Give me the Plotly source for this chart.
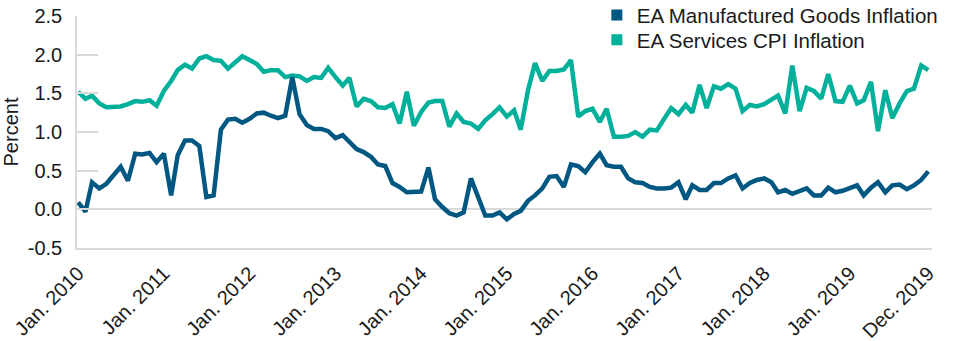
import pandas as pd
import plotly.graph_objects as go

dates = pd.date_range("2010-01-01", "2019-12-01", freq="MS")

manufactured_goods = [
    0.09, -0.03, 0.35, 0.27, 0.33, 0.44, 0.55, 0.37, 0.72, 0.71, 0.73, 0.61,
    0.72, 0.18, 0.70, 0.89, 0.89, 0.82, 0.16, 0.18, 1.03, 1.16, 1.17, 1.12,
    1.17, 1.24, 1.25, 1.21, 1.18, 1.21, 1.71, 1.23, 1.09, 1.04, 1.04, 1.01,
    0.92, 0.96, 0.87, 0.78, 0.74, 0.68, 0.58, 0.56, 0.34, 0.29, 0.22, 0.22,
    0.23, 0.54, 0.13, 0.03, -0.05, -0.08, -0.04, 0.40, 0.14, -0.08, -0.08, -0.04,
    -0.13, -0.06, -0.02, 0.11, 0.18, 0.27, 0.42, 0.43, 0.29, 0.58, 0.56, 0.48,
    0.61, 0.72, 0.57, 0.55, 0.55, 0.40, 0.35, 0.34, 0.29, 0.27, 0.27, 0.28,
    0.35, 0.13, 0.31, 0.25, 0.25, 0.34, 0.34, 0.40, 0.44, 0.27, 0.34, 0.38,
    0.40, 0.35, 0.22, 0.25, 0.20, 0.24, 0.27, 0.18, 0.18, 0.28, 0.22, 0.24,
    0.28, 0.31, 0.18, 0.28, 0.35, 0.22, 0.31, 0.32, 0.26, 0.31, 0.38, 0.49,
]

services_cpi = [
    1.52, 1.43, 1.47, 1.37, 1.32, 1.32, 1.33, 1.36, 1.40, 1.39, 1.41, 1.34,
    1.53, 1.66, 1.80, 1.87, 1.82, 1.95, 1.98, 1.93, 1.92, 1.82, 1.90, 1.98,
    1.93, 1.88, 1.78, 1.80, 1.80, 1.71, 1.73, 1.72, 1.66, 1.71, 1.70, 1.83,
    1.71, 1.60, 1.70, 1.33, 1.43, 1.40, 1.32, 1.31, 1.36, 1.11, 1.52, 1.08,
    1.26, 1.38, 1.40, 1.40, 1.07, 1.24, 1.13, 1.11, 1.04, 1.15, 1.23, 1.32,
    1.20, 1.28, 1.03, 1.54, 1.89, 1.66, 1.79, 1.79, 1.81, 1.93, 1.20, 1.27,
    1.30, 1.13, 1.30, 0.94, 0.94, 0.95, 1.00, 0.94, 1.03, 1.02, 1.17, 1.31,
    1.23, 1.35, 1.25, 1.61, 1.31, 1.59, 1.56, 1.62, 1.56, 1.27, 1.35, 1.33,
    1.36, 1.42, 1.47, 1.24, 1.86, 1.27, 1.57, 1.53, 1.43, 1.75, 1.40, 1.39,
    1.60, 1.37, 1.41, 1.65, 1.01, 1.54, 1.18, 1.37, 1.53, 1.56, 1.86, 1.80,
]

x_tick_dates = ["2010-01-01", "2011-01-01", "2012-01-01", "2013-01-01", "2014-01-01",
                "2015-01-01", "2016-01-01", "2017-01-01", "2018-01-01", "2019-01-01",
                "2019-12-01"]
x_tick_labels = ["Jan. 2010", "Jan. 2011", "Jan. 2012", "Jan. 2013", "Jan. 2014",
                 "Jan. 2015", "Jan. 2016", "Jan. 2017", "Jan. 2018", "Jan. 2019",
                 "Dec. 2019"]
y_tick_values = [-0.5, 0.0, 0.5, 1.0, 1.5, 2.0, 2.5]
y_tick_labels = ["-0.5", "0.0", "0.5", "1.0", "1.5", "2.0", "2.5"]

series_names = ["EA Manufactured Goods Inflation", "EA Services CPI Inflation"]
BLUE = "#005882"
GREEN = "#00B09B"
GRID = "#d9d9d9"
TEXT = "#1a1a1a"
FONT = "Liberation Sans, Arial, sans-serif"

fig = go.Figure()
for vals, color in [(services_cpi, GREEN), (manufactured_goods, BLUE)]:
    fig.add_trace(go.Scatter(
        x=dates, y=vals, mode="lines", showlegend=False,
        line=dict(color=color, width=4.5), hoverinfo="x+y",
    ))
# legend entries (square swatches), one legend per row
for name, color, leg in zip(series_names, [BLUE, GREEN], ["legend", "legend2"]):
    fig.add_trace(go.Scatter(
        x=[None], y=[None], mode="markers", name=name, legend=leg,
        marker=dict(symbol="square", size=11, color=color),
    ))

legend_common = dict(
    x=0.608, xanchor="left", yanchor="middle",
    bgcolor="rgba(0,0,0,0)", borderwidth=0,
    font=dict(family=FONT, size=20.5, color=TEXT),
    itemsizing="trace", itemwidth=30,
)

fig.update_layout(
    width=960, height=341,
    margin=dict(l=77, r=28, t=16, b=93, autoexpand=False),
    paper_bgcolor="white", plot_bgcolor="white",
    font=dict(family=FONT, size=20, color=TEXT),
    legend=dict(y=1.004, **legend_common),
    legend2=dict(y=0.897, **legend_common),
    xaxis=dict(
        type="date", range=["2009-12-27", "2019-12-17"],
        tickmode="array", tickvals=x_tick_dates, ticktext=x_tick_labels,
        tickangle=-45, showgrid=False, zeroline=False,
        showline=True, linecolor=GRID, linewidth=1.5,
        ticks="", tickfont=dict(size=20), ticklabelstandoff=4,
        automargin=False,
    ),
    yaxis=dict(
        range=[-0.5, 2.5], tickmode="array",
        tickvals=y_tick_values, ticktext=y_tick_labels,
        showgrid=False, zeroline=True, zerolinecolor=GRID, zerolinewidth=1.5,
        showline=True, linecolor=GRID, linewidth=1.5,
        ticks="inside", ticklen=21, tickwidth=1.5, tickcolor=GRID,
        tickfont=dict(size=20), ticklabelstandoff=9,
        title=dict(text="Percent", font=dict(size=20), standoff=4),
        automargin=False,
    ),
)

fig.write_html("out.html")
